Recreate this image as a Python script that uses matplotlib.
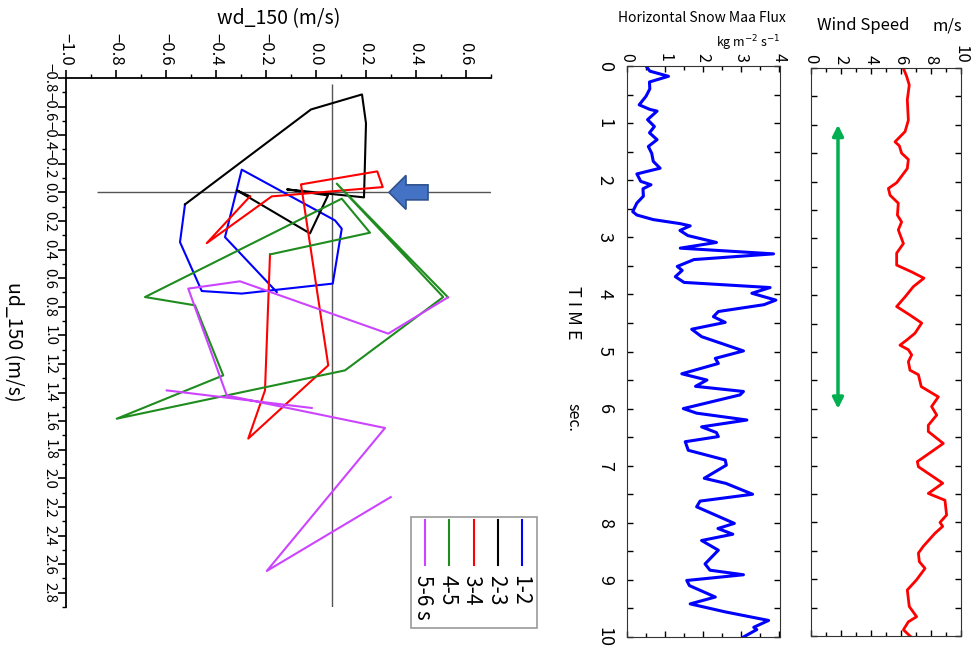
#!/usr/bin/env python3

import numpy as np
import matplotlib
matplotlib.use("Agg")
import matplotlib.pyplot as plt
from matplotlib.patches import FancyArrow, Rectangle
from matplotlib.lines import Line2D
from matplotlib.ticker import MultipleLocator, FuncFormatter

plt.rcParams['font.family'] = ['Noto Sans CJK JP', 'DejaVu Sans']

# hodograph, one trace per second (wd_150, ud_150 in m/s)
seg_labels = ["1-2", "2-3", "3-4", "4-5", "5-6 s"]
seg_colors = ["#0000FF", "#000000", "#FF0000", "#1E8C1E", "#CC44FF"]

wd_12 = [-0.157, -0.364, -0.297, 0.076, 0.103, 0.067, -0.297, -0.457, -0.544, -0.524]
ud_12 = [0.697, 0.313, -0.159, 0.196, 0.254, 0.638, 0.708, 0.690, 0.348, 0.084]
wd_23 = [-0.524, -0.020, 0.184, 0.200, 0.192, -0.116, 0.048, -0.024, -0.316, -0.264]
ud_23 = [0.084, -0.580, -0.685, -0.483, 0.035, -0.021, 0.021, 0.287, -0.014, 0.028]
wd_34 = [-0.264, -0.437, -0.177, 0.267, 0.245, -0.060, 0.049, -0.271, -0.204, -0.184]
ud_34 = [0.028, 0.355, 0.028, -0.037, -0.147, -0.056, 1.210, 1.722, 1.385, 0.434]
wd_45 = [-0.184, 0.216, 0.103, -0.684, -0.484, -0.371, -0.797, 0.116, 0.509, 0.083, 0.528]
ud_45 = [0.434, 0.282, 0.044, 0.732, 0.790, 1.280, 1.583, 1.245, 0.732, -0.061, 0.734]
wd_56 = [0.528, 0.289, -0.304, -0.511, -0.357, 0.276, -0.197, 0.299, np.nan, -0.597, -0.017]
ud_56 = [0.734, 0.988, 0.622, 0.673, 1.420, 1.648, 2.648, 2.131, np.nan, 1.385, 1.508]

# horizontal snow mass flux (kg m-2 s-1) against time (s)
flux_t = [0.00, 0.09, 0.18, 0.28, 0.40, 0.53, 0.68, 0.76, 0.79, 0.94,
          1.06, 1.17, 1.29, 1.41, 1.53, 1.67, 1.79, 1.89, 2.02, 2.08,
          2.15, 2.28, 2.40, 2.55, 2.61, 2.69, 2.76, 2.80, 2.88, 2.97,
          3.09, 3.19, 3.29, 3.39, 3.51, 3.58, 3.69, 3.79, 3.88, 3.98,
          4.10, 4.18, 4.30, 4.39, 4.49, 4.61, 4.74, 4.99, 5.12, 5.21,
          5.39, 5.50, 5.61, 5.70, 5.76, 6.00, 6.08, 6.20, 6.32, 6.42,
          6.49, 6.58, 6.73, 6.90, 6.99, 7.22, 7.31, 7.50, 7.62, 7.72,
          8.01, 8.10, 8.20, 8.31, 8.48, 8.72, 8.83, 8.91, 9.01, 9.10,
          9.30, 9.42, 9.56, 9.71, 9.83, 9.87, 10.0]
flux = [0.50, 0.60, 1.09, 0.59, 0.60, 0.50, 0.32, 0.60, 0.79, 0.54,
        0.72, 0.59, 0.79, 0.56, 0.65, 0.69, 0.87, 0.26, 0.36, 0.63,
        0.42, 0.43, 0.26, 0.15, 0.26, 0.69, 1.39, 1.66, 1.39, 1.60,
        2.35, 1.40, 3.85, 1.76, 1.32, 1.45, 1.27, 1.50, 3.76, 3.28,
        3.91, 3.60, 2.40, 2.27, 2.58, 1.70, 1.96, 3.06, 2.32, 2.40,
        1.44, 2.10, 1.80, 3.06, 2.97, 1.48, 1.83, 3.15, 1.96, 2.35,
        2.40, 1.53, 1.61, 2.58, 2.61, 2.03, 2.60, 3.30, 1.92, 1.83,
        2.82, 2.39, 2.78, 1.96, 2.40, 2.05, 2.18, 3.06, 1.57, 1.64,
        2.32, 1.66, 2.58, 3.72, 3.33, 3.41, 3.06]

# wind speed (m/s) against time (s)
wind_t = [0.00, 0.15, 0.30, 0.56, 0.92, 1.12, 1.30, 1.37, 1.50, 1.61,
          1.77, 2.02, 2.12, 2.24, 2.38, 2.59, 2.71, 2.85, 3.09, 3.26,
          3.47, 3.59, 3.70, 3.85, 4.03, 4.20, 4.35, 4.49, 4.67, 4.79,
          4.88, 4.96, 5.05, 5.17, 5.32, 5.40, 5.61, 5.79, 5.96,
          6.11, 6.29, 6.40, 6.61, 6.93, 7.02, 7.31, 7.49, 7.61, 7.87,
          8.00, 8.07, 8.19, 8.42, 8.54, 8.69, 8.81, 9.01, 9.19, 9.48,
          9.66, 9.75, 9.89, 10.0]
wind = [6.15, 6.38, 6.55, 6.42, 6.49, 6.27, 5.60, 5.89, 6.04, 6.49,
        6.42, 5.71, 5.16, 5.27, 5.82, 5.76, 6.04, 5.82, 6.16, 5.71,
        5.71, 6.71, 7.53, 6.82, 6.27, 5.71, 6.60, 7.38, 6.93, 6.38,
        5.93, 6.49, 6.71, 6.49, 6.60, 7.16, 7.35, 8.49, 8.04,
        8.38, 7.82, 7.82, 8.82, 7.09, 7.16, 8.78, 7.82, 8.93, 9.04,
        8.60, 8.78, 8.27, 7.49, 7.16, 7.22, 7.60, 7.04, 6.42, 6.55,
        7.04, 6.49, 6.16, 6.60]

# period marked with the green arrow (s) and where it sits (m/s)
period = (1.0, 6.0)
period_ws = 1.8

W, H = 976, 652


def px_box(left, top, right, bottom):
    return [left / W, 1 - bottom / H, (right - left) / W, (bottom - top) / H]


def fig_xy(x, y):
    return x / W, 1 - y / H


def tick_fmt(v, pos):
    s = "%.1f" % v
    if s == "-0.0":
        s = "0.0"
    return s.replace("-", "\u2212")


fig = plt.figure(figsize=(W / 100, H / 100), dpi=100)

# ---- hodograph
ax = fig.add_axes(px_box(66, 78, 491, 607))
ax.hlines(0.0, -0.876, 0.7, color="#555555", lw=1.0, zorder=1)
ax.vlines(0.065, -0.76, 2.9, color="#555555", lw=1.0, zorder=1)
series = [(wd_12, ud_12), (wd_23, ud_23), (wd_34, ud_34), (wd_45, ud_45), (wd_56, ud_56)]
for (wd, ud), c in zip(series, seg_colors):
    ax.plot(wd, ud, color=c, lw=1.5, zorder=2)
ax.add_patch(FancyArrow(0.448, 0.0, -0.156, 0.0, width=0.105, head_width=0.238,
                        head_length=0.068, length_includes_head=True,
                        fc="#4472C4", ec="#2F528F", lw=1.2, zorder=3))
ax.set_xlim(-1.0, 0.7)
ax.set_ylim(2.9, -0.8)
ax.spines["right"].set_visible(False)
ax.spines["bottom"].set_visible(False)
ax.xaxis.tick_top()
ax.xaxis.set_label_position("top")
ax.xaxis.set_major_locator(MultipleLocator(0.2))
ax.xaxis.set_minor_locator(MultipleLocator(0.1))
ax.yaxis.set_major_locator(MultipleLocator(0.2))
ax.yaxis.set_minor_locator(MultipleLocator(0.1))
ax.xaxis.set_major_formatter(FuncFormatter(tick_fmt))
ax.yaxis.set_major_formatter(FuncFormatter(tick_fmt))
ax.tick_params(which="major", length=6, width=1.2)
ax.tick_params(which="minor", length=3, width=1.0)
ax.tick_params(axis="x", labelrotation=-90, pad=3, labelsize=12)
ax.tick_params(axis="y", labelrotation=-90, pad=1, labelsize=10.8)
for sp in ("top", "left"):
    ax.spines[sp].set_linewidth(1.3)
fig.canvas.draw()
for lab in ax.get_yticklabels():
    lab.set_va("center")
ax.set_xlabel("wd_150 (m/s)", fontsize=14, labelpad=6)
fig.text(*fig_xy(13, 342), "ud_150 (m/s)", rotation=-90, fontsize=14,
         ha="center", va="center")

# legend drawn sideways like the original
fig.add_artist(Rectangle(fig_xy(411, 628), 126 / W, 111 / H, transform=fig.transFigure,
                         fill=False, ec="#9a9a9a", lw=1.2))
for i, (lab, c) in enumerate(zip(seg_labels, seg_colors)):
    x = 522 - 24.2 * i
    fig.add_artist(Line2D([x / W, x / W], [1 - 520 / H, 1 - 565 / H], transform=fig.transFigure,
                          color=c, lw=1.5))
    fig.text(*fig_xy(x - 2, 575), lab, rotation=-90, fontsize=15, ha="center", va="top")

# ---- snow mass flux
ax2 = fig.add_axes(px_box(627, 66, 780, 637))
ax2.plot(flux, flux_t, color="#0000FF", lw=2.2)
ax2.set_xlim(0, 4.02)
ax2.set_ylim(10, 0)
ax2.xaxis.set_major_locator(MultipleLocator(1))
ax2.xaxis.set_minor_locator(MultipleLocator(0.5))
ax2.yaxis.set_major_locator(MultipleLocator(1))
ax2.yaxis.set_minor_locator(MultipleLocator(0.5))
ax2.tick_params(which="both", direction="in", top=True, bottom=True, left=True, right=True,
                labeltop=True, labelbottom=False, width=1.0)
ax2.tick_params(axis="x", which="major", length=4, labelsize=11.5, labelrotation=-90, pad=3)
ax2.tick_params(axis="x", which="minor", length=3)
ax2.tick_params(axis="y", which="both", length=4)
ax2.tick_params(axis="y", which="major", labelsize=13, labelrotation=-90, pad=16)
for sp in ax2.spines.values():
    sp.set_color("#333333")
fig.canvas.draw()
for lab in ax2.get_yticklabels():
    lab.set_va("center")
    lab.set_ha("center")
fig.text(*fig_xy(618, 18), "Horizontal Snow Maa Flux", fontsize=10, ha="left", va="center")
fig.text(*fig_xy(781, 43), r"kg m$^{-2}$ s$^{-1}$", fontsize=9, ha="right", va="center")
fig.text(*fig_xy(573, 313), "T I M E", rotation=-90, fontsize=13, ha="center", va="center")
fig.text(*fig_xy(573, 417), "sec.", rotation=-90, fontsize=11.5, ha="center", va="center")

# ---- wind speed
ax3 = fig.add_axes(px_box(811, 68, 961, 636))
ax3.plot(wind, wind_t, color="#FF0000", lw=2.0)
ax3.annotate("", xy=(period_ws, period[0]), xytext=(period_ws, period[1]),
             arrowprops=dict(arrowstyle="<|-|>", color="#00B050", lw=2.5,
                             mutation_scale=16, shrinkA=0, shrinkB=0))
ax3.set_xlim(0, 10)
ax3.set_ylim(10, 0)
ax3.xaxis.set_major_locator(MultipleLocator(2))
ax3.xaxis.set_minor_locator(MultipleLocator(1))
ax3.yaxis.set_major_locator(MultipleLocator(1))
ax3.yaxis.set_minor_locator(MultipleLocator(0.5))
ax3.tick_params(which="both", direction="in", top=True, bottom=True, left=True, right=True,
                labeltop=True, labelbottom=False, labelleft=False, width=1.0)
ax3.tick_params(axis="x", which="major", length=4, labelsize=12, labelrotation=-90, pad=3)
ax3.tick_params(axis="x", which="minor", length=3)
ax3.tick_params(axis="y", which="both", length=4)
for sp in ax3.spines.values():
    sp.set_color("#333333")
fig.text(*fig_xy(817, 26), "Wind Speed", fontsize=12, ha="left", va="center")
fig.text(*fig_xy(933, 26), "m/s", fontsize=12, ha="left", va="center")

fig.savefig("out.png", dpi=100)
